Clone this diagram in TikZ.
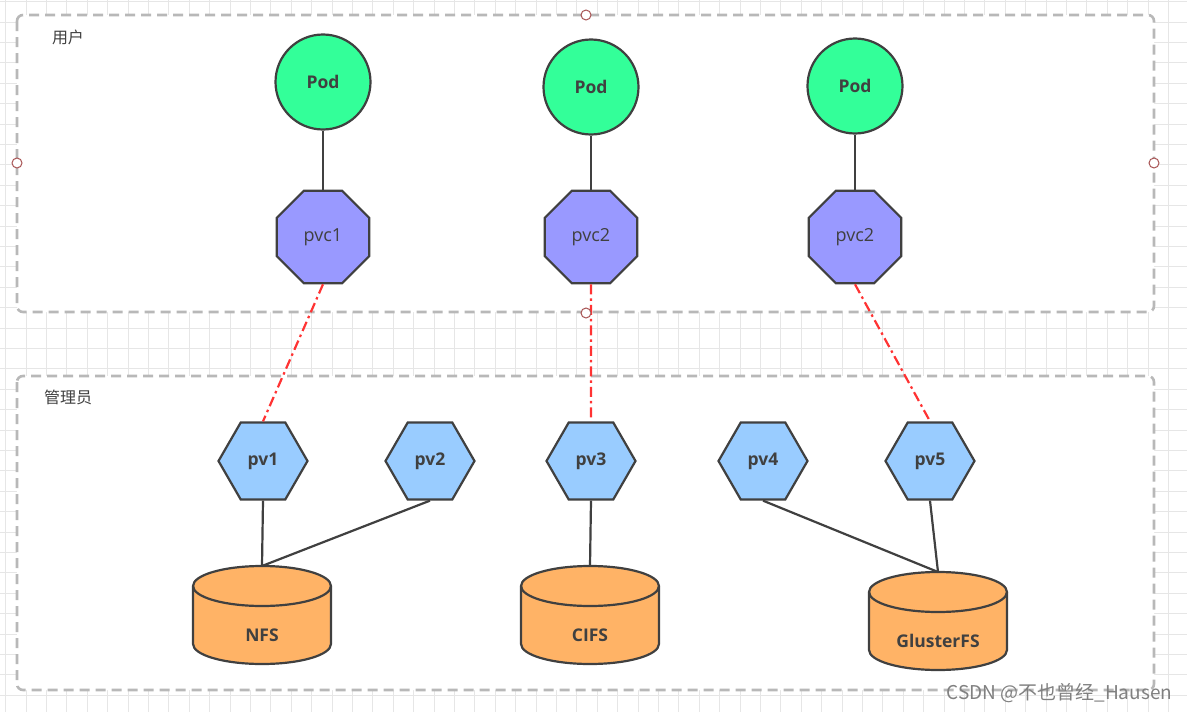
\documentclass[tikz,border=0pt]{standalone}
\usepackage{fontspec}
\setmainfont{Open Sans}
\newfontfamily\cjk{Noto Sans CJK SC}
\usetikzlibrary{shapes.geometric}

\definecolor{podfill}{HTML}{33FF99}
\definecolor{pvcfill}{HTML}{9999FF}
\definecolor{pvfill}{HTML}{99CCFF}
\definecolor{storefill}{HTML}{FFB366}
\definecolor{edgegray}{HTML}{404040}
\definecolor{boxgray}{HTML}{B8B8B8}
\definecolor{gridgray}{HTML}{E6E6E6}
\definecolor{bindred}{HTML}{FF3333}
\definecolor{handlered}{HTML}{A85454}

% storage cylinder: name, x, top y, label
\newcommand{\storecyl}[4]{%
  \begin{scope}[shift={(#2,#3)}]
    \coordinate (#1top) at (0,0);
    \draw[storebody] (-69,-20) -- (-69,-78)
      arc[start angle=180, end angle=360, x radius=69pt, y radius=20pt]
      -- (69,-20)
      arc[start angle=0, end angle=180, x radius=69pt, y radius=20pt] -- cycle;
    \draw[storebody, fill=none] (-69,-20)
      arc[start angle=180, end angle=360, x radius=69pt, y radius=20pt];
    \node[boldtxt] (#1) at (0,-69) {#4};
  \end{scope}}

\begin{document}
\begin{tikzpicture}[x=1pt, y=1pt,
  gridline/.style={draw=gridgray, line width=0.9pt},
  area/.style={draw=boxgray, fill=white, line width=2.6pt, rounded corners=6pt, dash pattern=on 10pt off 6pt},
  handle/.style={circle, draw=handlered, fill=white, line width=1pt, minimum size=10pt, inner sep=0pt},
  boldtxt/.style={font=\fontsize{17.5}{20}\selectfont\bfseries, text=edgegray},
  podnode/.style={circle, draw=edgegray, fill=podfill, line width=2.2pt, minimum size=95pt, inner sep=0pt, boldtxt},
  pvcnode/.style={regular polygon, regular polygon sides=8, draw=edgegray, fill=pvcfill, line width=2.2pt, minimum size=100pt, inner sep=0pt, font=\fontsize{18}{20}\selectfont, text=edgegray},
  pvnode/.style={regular polygon, regular polygon sides=6, draw=edgegray, fill=pvfill, line width=2.2pt, minimum size=89pt, inner sep=0pt, boldtxt},
  storebody/.style={draw=edgegray, fill=storefill, line width=2.2pt},
  link/.style={draw=edgegray, line width=2.2pt},
  bind/.style={draw=bindred, line width=2.2pt, dash pattern=on 10pt off 4pt on 2.5pt off 4pt},
  areatxt/.style={font=\cjk\fontsize{16}{18}\selectfont, text=edgegray}]
\useasboundingbox (0,0) rectangle (1187,-712);

% background grid
\foreach \i in {0,...,57}
  \draw[gridline] (5.6+20.4*\i,0) -- (5.6+20.4*\i,-712);
\foreach \j in {0,...,34}
  \draw[gridline] (0,-1.6-20.4*\j) -- (1187,-1.6-20.4*\j);

% user and admin areas
\draw[area] (17,-15) rectangle (1154,-312);
\draw[area] (17,-376) rectangle (1154,-690);
\node[areatxt] (usertxt) at (68,-37) {用户};
\node[areatxt] (admintxt) at (68,-397) {管理员};

% pods and claims
\node[podnode] (pod1) at (323,-82) {Pod};
\node[podnode] (pod2) at (591,-87) {Pod};
\node[podnode] (pod3) at (855,-86) {Pod};
\node[pvcnode] (pvc1) at (323,-237) {pvc1};
\node[pvcnode] (pvc2) at (591,-237) {pvc2};
\node[pvcnode] (pvc3) at (855,-237) {pvc2};
\draw[link] (pod1) -- (pvc1);
\draw[link] (pod2) -- (pvc2);
\draw[link] (pod3) -- (pvc3);

% volumes
\node[pvnode] (pv1) at (263,-461) {pv1};
\node[pvnode] (pv2) at (430,-461) {pv2};
\node[pvnode] (pv3) at (591,-461) {pv3};
\node[pvnode] (pv4) at (763,-461) {pv4};
\node[pvnode] (pv5) at (930,-461) {pv5};

% storage
\storecyl{nfs}{262}{-566}{NFS}
\storecyl{cifs}{590}{-566}{CIFS}
\storecyl{gfs}{938}{-572}{GlusterFS}

\draw[link] (pv1.south) -- (nfstop);
\draw[link] (pv2.south) -- (nfstop);
\draw[link] (pv3.south) -- (cifstop);
\draw[link] (pv4.south) -- (gfstop);
\draw[link] (pv5.south) -- (gfstop);

% bindings
\draw[bind] (pvc1.south) -- (pv1.north);
\draw[bind] (pvc2.south) -- (pv3.north);
\draw[bind] (pvc3.south) -- (pv5.north);

% selection handles
\node[handle] (hn) at (586,-15) {};
\node[handle] (hw) at (17,-163) {};
\node[handle] (he) at (1154,-163) {};
\node[handle] (hs) at (586,-313) {};

\node[anchor=west, font=\cjk\fontsize{19}{21}\selectfont, text=gray] (mark) at (943,-693) {CSDN @不也曾经\_Hausen};
\end{tikzpicture}
\end{document}
